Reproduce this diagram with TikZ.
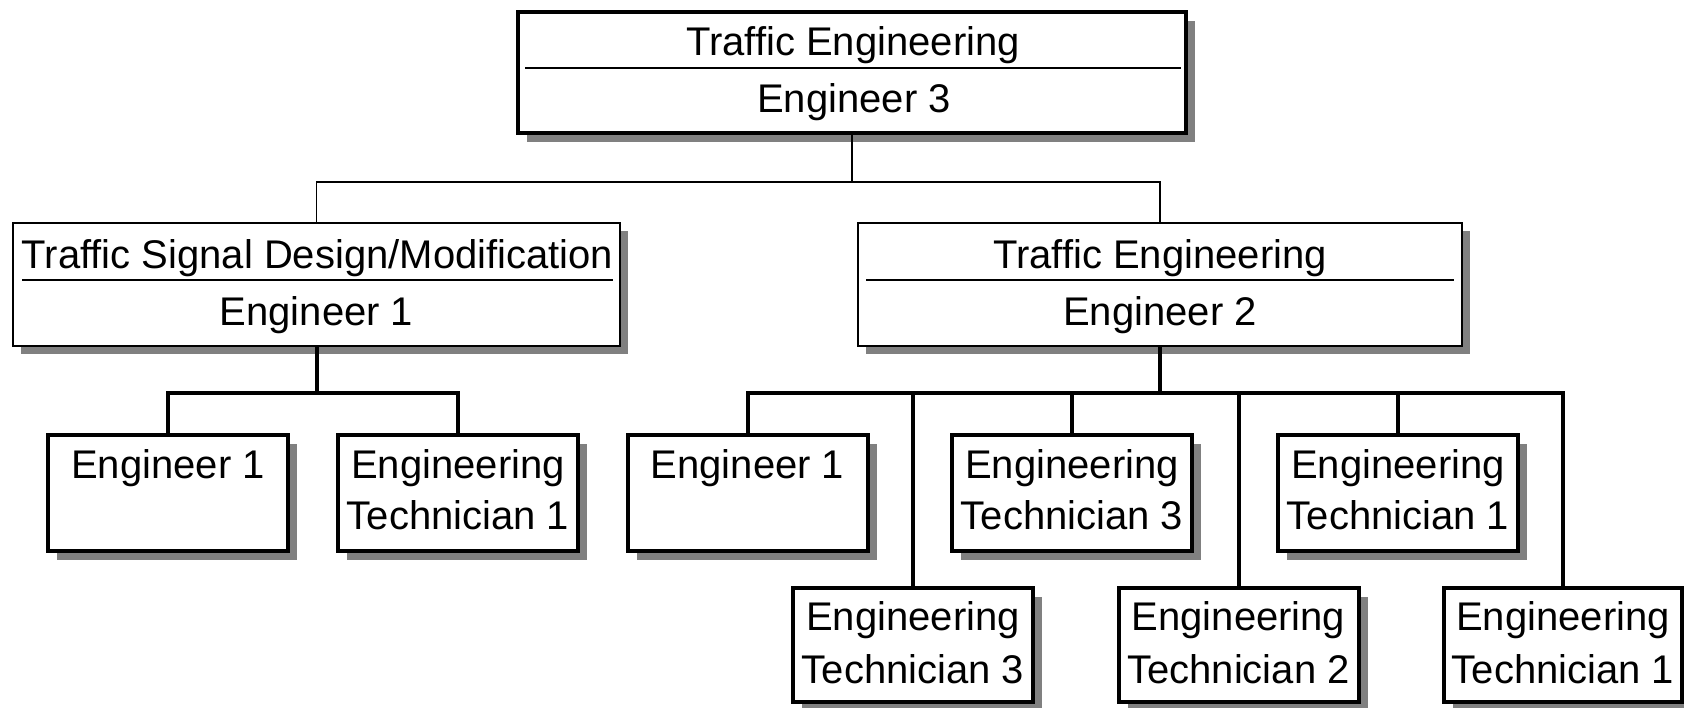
\documentclass[tikz,border=0pt]{standalone}
\usepackage{fontspec}
\setmainfont{Liberation Sans}
\usetikzlibrary{shadows}
\definecolor{shade}{HTML}{808080}
\tikzset{
  lbl/.style={anchor=base, inner sep=0pt, outer sep=0pt, font=\fontsize{40}{46}\selectfont},
  thickbox/.style={draw=black, line width=4pt, fill=white, inner sep=0pt, outer sep=0pt,
    rectangle, drop shadow={shadow xshift=9pt, shadow yshift=-9pt, fill=shade, opacity=1}},
  thinbox/.style={draw=black, line width=2pt, fill=white, inner sep=0pt, outer sep=0pt,
    rectangle, drop shadow={shadow xshift=8pt, shadow yshift=-8pt, fill=shade, opacity=1}},
  divider/.style={line width=1.6pt},
  thinlink/.style={line width=1.6pt},
  thicklink/.style={line width=4pt},
}
\begin{document}
\begin{tikzpicture}[x=1pt,y=-1pt]
\useasboundingbox (0,0) rectangle (1684,707);
% top box
\node[thickbox, minimum width=668pt, minimum height=121pt] (top) at (852,72.5) {};
\draw[divider] (525,68) coordinate (td1) -- (1181,68) coordinate (td2);
\node[lbl] (topa) at (853,55) {Traffic Engineering};
\node[lbl] (topb) at (854,112) {Engineer 3};
% middle boxes
\node[thinbox, minimum width=607pt, minimum height=123pt] (ml) at (316.5,284.5) {};
\draw[divider] (22,280) coordinate (ld1) -- (613,280) coordinate (ld2);
\node[lbl] (mla) at (317.5,268) {Traffic Signal Design/Modification};
\node[lbl] (mlb) at (316.5,325) {Engineer 1};
\node[thinbox, minimum width=604pt, minimum height=123pt] (mr) at (1160,284.5) {};
\draw[divider] (866,280) coordinate (rd1) -- (1454,280) coordinate (rd2);
\node[lbl] (mra) at (1160,268) {Traffic Engineering};
\node[lbl] (mrb) at (1160,325) {Engineer 2};
% bottom left group
\node[thickbox, minimum width=240pt, minimum height=116pt] (c1) at (168,493) {};
\node[lbl] (c1a) at (168,478) {Engineer 1};
\node[thickbox, minimum width=240pt, minimum height=116pt] (c2) at (458,493) {};
\node[lbl] (c2a) at (458,478) {Engineering};
\node[lbl] (c2b) at (458,529) {Technician 1};
% bottom right group, upper row
\node[thickbox, minimum width=240pt, minimum height=116pt] (b1) at (747.5,493) {};
\node[lbl] (b1a) at (747.5,478) {Engineer 1};
\node[thickbox, minimum width=240pt, minimum height=116pt] (b3) at (1072,493) {};
\node[lbl] (b3a) at (1072,478) {Engineering};
\node[lbl] (b3b) at (1072,529) {Technician 3};
\node[thickbox, minimum width=240pt, minimum height=116pt] (b5) at (1398,493) {};
\node[lbl] (b5a) at (1398,478) {Engineering};
\node[lbl] (b5b) at (1398,529) {Technician 1};
% lower row
\node[thickbox, minimum width=240pt, minimum height=114pt] (b2) at (913,645) {};
\node[lbl] (b2a) at (913,630) {Engineering};
\node[lbl] (b2b) at (913,683) {Technician 3};
\node[thickbox, minimum width=240pt, minimum height=114pt] (b4) at (1238.5,645) {};
\node[lbl] (b4a) at (1238.5,630) {Engineering};
\node[lbl] (b4b) at (1238.5,683) {Technician 2};
\node[thickbox, minimum width=238pt, minimum height=114pt] (b6) at (1563,645) {};
\node[lbl] (b6a) at (1563,630) {Engineering};
\node[lbl] (b6b) at (1563,683) {Technician 1};
% bus coordinates
\coordinate (bus1) at (0,182);
\coordinate (bus2) at (0,393);
% connectors
\draw[thinlink] (top.south) -- (top.south |- bus1);
\draw[thinlink] (ml.north) |- (mr.north |- bus1) -- (mr.north);
\draw[thicklink] (ml.south) -- (ml.south |- bus2);
\draw[thicklink] (c1.north) |- (c2.north |- bus2) -- (c2.north);
\draw[thicklink] (mr.south) -- (mr.south |- bus2);
\draw[thicklink] (b1.north) |- (b6.north |- bus2) -- (b6.north);
\draw[thicklink] (b2.north) -- (b2.north |- bus2);
\draw[thicklink] (b3.north) -- (b3.north |- bus2);
\draw[thicklink] (b4.north) -- (b4.north |- bus2);
\draw[thicklink] (b5.north) -- (b5.north |- bus2);
\end{tikzpicture}
\end{document}
